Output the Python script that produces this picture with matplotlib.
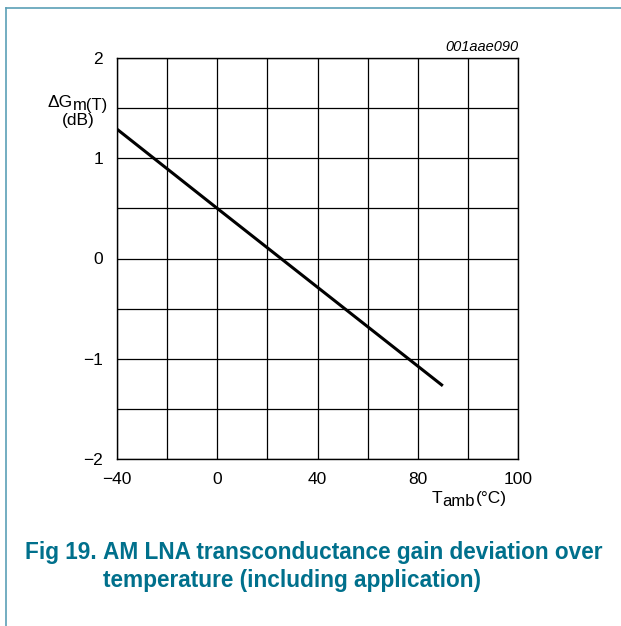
import matplotlib
matplotlib.use("Agg")
import matplotlib.pyplot as plt
from matplotlib.lines import Line2D

plt.rcParams['font.family'] = ['Liberation Sans', 'DejaVu Sans']

# data
temp = [-40, 0, 90]
gain_dev = [1.29, 0.5, -1.27]

x_grid = [-40, -20, 0, 20, 40, 60, 80, 100, 120]
x_tick_pos = [-40, 0, 40, 80, 120]
x_tick_labels = ["\u221240", "0", "40", "80", "100"]  # reference labels last line "100"
y_grid = [-2, -1.5, -1, -0.5, 0, 0.5, 1, 1.5, 2]
y_tick_pos = [-2, -1, 0, 1, 2]
y_tick_labels = ["\u22122", "\u22121", "0", "1", "2"]

teal = "#00708c"
border = "#5b9fb6"
W, H = 621, 626


def fx(px):
    return px / W


def fy(py):
    return 1 - py / H


fig = plt.figure(figsize=(6.21, 6.26), dpi=100)
ax = fig.add_axes([fx(117), fy(459), 401 / W, 401 / H])

for xv in x_grid:
    ax.axvline(xv, color="black", linewidth=0.9, zorder=1)
for yv in y_grid:
    ax.axhline(yv, color="black", linewidth=0.9, zorder=1)

ax.plot(temp, gain_dev, color="black", linewidth=2.2, solid_capstyle="butt", zorder=3)

ax.set_xlim(-40, 120)
ax.set_ylim(-2, 2)
ax.set_xticks(x_tick_pos)
ax.set_xticklabels(x_tick_labels)
ax.set_yticks(y_tick_pos)
ax.set_yticklabels(y_tick_labels)
ax.tick_params(length=0, labelsize=12.5)
ax.tick_params(axis="x", pad=9)
ax.tick_params(axis="y", pad=10)
for s in ax.spines.values():
    s.set_linewidth(1.0)

# y axis label with full-size lowered subscript
fig.text(fx(73), fy(107), "\u0394G", ha="right", va="baseline", fontsize=12.5)
fig.text(fx(72.5), fy(110), "m(T)", ha="left", va="baseline", fontsize=12)
fig.text(fx(78), fy(121), "(dB)", ha="center", va="center", fontsize=12.5)

# x axis label
fig.text(fx(442), fy(503), "T", ha="right", va="baseline", fontsize=12.5)
fig.text(fx(442), fy(506), "amb", ha="left", va="baseline", fontsize=12)
fig.text(fx(476), fy(503), "(\u00b0C)", ha="left", va="baseline", fontsize=12.5)

fig.text(fx(518), fy(47), "001aae090", ha="right", va="center", fontsize=10.5, style="italic")

cap_size = 16.3
fig.text(fx(25), fy(552), "Fig 19.", ha="left", va="center", fontsize=cap_size,
         fontweight="bold", color=teal)
fig.text(fx(103), fy(552), "AM LNA transconductance gain deviation over", ha="left",
         va="center", fontsize=cap_size, fontweight="bold", color=teal)
fig.text(fx(103), fy(580), "temperature (including application)", ha="left",
         va="center", fontsize=cap_size, fontweight="bold", color=teal)

# page border lines
fig.add_artist(Line2D([fx(6), 1], [fy(8), fy(8)], color=border, linewidth=1.2))
fig.add_artist(Line2D([fx(6), fx(6)], [0, fy(8)], color=border, linewidth=1.2))

fig.savefig("out.png", dpi=100)
